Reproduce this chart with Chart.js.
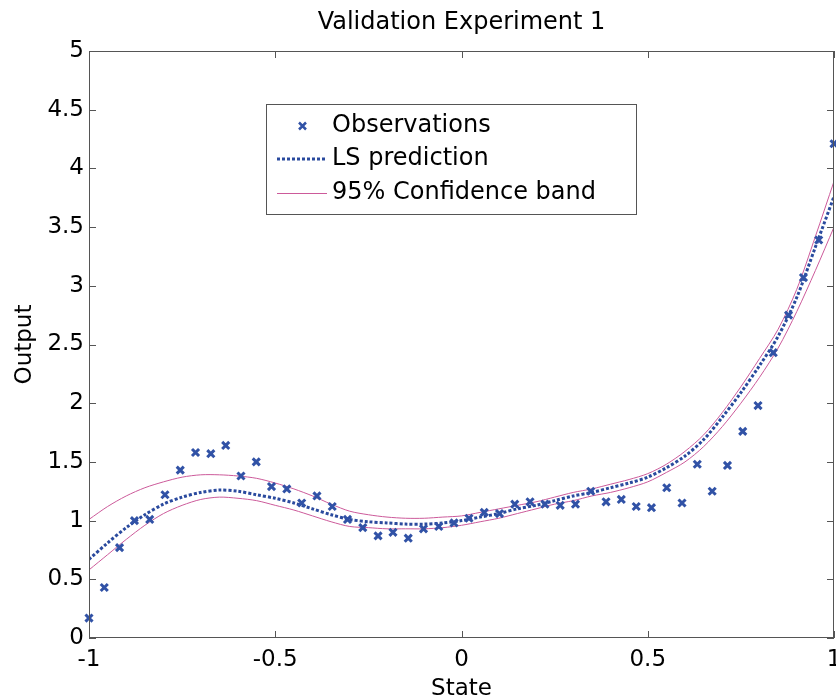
<!DOCTYPE html>
<html>
<head>
<meta charset="utf-8">
<script src="https://cdn.jsdelivr.net/npm/chart.js@4.4.0/dist/chart.umd.min.js"></script>
<style>
  html, body { margin: 0; padding: 0; background: #fff; }
</style>
</head>
<body>
<canvas id="chart" width="836" height="698"></canvas>
<script>
// ===== Data =====
const stateObs = [-1.000, -0.959, -0.918, -0.878, -0.837, -0.796, -0.755, -0.714, -0.673, -0.633,
  -0.592, -0.551, -0.510, -0.469, -0.429, -0.388, -0.347, -0.306, -0.265, -0.224,
  -0.184, -0.143, -0.102, -0.061, -0.020, 0.020, 0.061, 0.102, 0.143, 0.184,
  0.224, 0.265, 0.306, 0.347, 0.388, 0.429, 0.469, 0.510, 0.551, 0.592,
  0.633, 0.673, 0.714, 0.755, 0.796, 0.837, 0.878, 0.918, 0.959, 1.000];
const outputObs = [0.17, 0.43, 0.77, 1.00, 1.01, 1.22, 1.43, 1.58, 1.57, 1.64,
  1.38, 1.50, 1.29, 1.27, 1.15, 1.21, 1.12, 1.01, 0.94, 0.87,
  0.90, 0.85, 0.93, 0.95, 0.98, 1.02, 1.07, 1.06, 1.14, 1.16,
  1.14, 1.13, 1.14, 1.25, 1.16, 1.18, 1.12, 1.11, 1.28, 1.15,
  1.48, 1.25, 1.47, 1.76, 1.98, 2.43, 2.75, 3.07, 3.39, 4.21];

const stateFit = [-1.00, -0.95, -0.90, -0.85, -0.80, -0.75, -0.70, -0.65, -0.60, -0.55,
  -0.50, -0.45, -0.40, -0.35, -0.30, -0.25, -0.20, -0.15, -0.10, -0.05,
  0.00, 0.05, 0.10, 0.15, 0.20, 0.25, 0.30, 0.35, 0.40, 0.45,
  0.50, 0.55, 0.60, 0.65, 0.70, 0.75, 0.80, 0.85, 0.90, 0.95, 1.00];
const lsPrediction = [0.67, 0.81, 0.94, 1.05, 1.14, 1.20, 1.24, 1.26, 1.25, 1.22,
  1.19, 1.15, 1.10, 1.05, 1.01, 0.99, 0.98, 0.97, 0.97, 0.98,
  1.00, 1.03, 1.06, 1.10, 1.13, 1.17, 1.21, 1.24, 1.28, 1.32,
  1.37, 1.45, 1.55, 1.69, 1.88, 2.09, 2.32, 2.57, 2.90, 3.33, 3.76];
const bandUpper = [1.01, 1.12, 1.21, 1.28, 1.33, 1.37, 1.39, 1.39, 1.38, 1.36,
  1.32, 1.27, 1.21, 1.14, 1.08, 1.05, 1.03, 1.02, 1.02, 1.03,
  1.04, 1.07, 1.10, 1.13, 1.16, 1.20, 1.24, 1.27, 1.31, 1.35,
  1.40, 1.48, 1.59, 1.73, 1.92, 2.14, 2.38, 2.63, 2.97, 3.42, 3.89];
const bandLower = [0.58, 0.71, 0.84, 0.96, 1.06, 1.13, 1.18, 1.20, 1.19, 1.17,
  1.13, 1.09, 1.04, 0.99, 0.95, 0.94, 0.93, 0.93, 0.93, 0.94,
  0.96, 0.99, 1.02, 1.06, 1.10, 1.14, 1.17, 1.21, 1.24, 1.28,
  1.33, 1.41, 1.50, 1.63, 1.80, 2.00, 2.22, 2.47, 2.78, 3.13, 3.50];

const legendLabels = ["Observations", "LS prediction", "95% Confidence band"];

// ===== Styles =====
const FONT = "'DejaVu Sans', sans-serif";
const OBS_COLOR = "#3152a6";
const LS_COLOR = "#2a4a9e";
const BAND_COLOR = "#cc5a9a";
const AXIS_COLOR = "#555";

const pts = (xs, ys) => xs.map((x, i) => ({ x: x, y: ys[i] }));

// ===== Box + inward ticks (MATLAB look) =====
const matlabAxes = {
  id: "matlabAxes",
  afterDatasetsDraw(chart) {
    const { ctx, chartArea: a, scales: { x, y } } = chart;
    const len = 7;
    ctx.save();
    ctx.strokeStyle = AXIS_COLOR;
    ctx.lineWidth = 1;
    ctx.strokeRect(a.left + 0.5, a.top + 0.5, a.right - a.left - 1, a.bottom - a.top - 1);
    ctx.beginPath();
    x.ticks.forEach(t => {
      const px = Math.round(x.getPixelForValue(t.value)) + 0.5;
      ctx.moveTo(px, a.bottom); ctx.lineTo(px, a.bottom - len);
      ctx.moveTo(px, a.top); ctx.lineTo(px, a.top + len);
    });
    y.ticks.forEach(t => {
      const py = Math.round(y.getPixelForValue(t.value)) + 0.5;
      ctx.moveTo(a.left, py); ctx.lineTo(a.left + len, py);
      ctx.moveTo(a.right, py); ctx.lineTo(a.right - len, py);
    });
    ctx.stroke();
    ctx.restore();
  }
};

// ===== Legend box inside the plot =====
const boxLegend = {
  id: "boxLegend",
  afterDraw(chart) {
    const ctx = chart.ctx;
    const bx = 266, by = 104, bw = 370, bh = 110;
    const rows = [126, 159, 193];
    ctx.save();
    ctx.fillStyle = "#fff";
    ctx.fillRect(bx, by, bw, bh);
    ctx.strokeStyle = AXIS_COLOR;
    ctx.lineWidth = 1;
    ctx.strokeRect(bx + 0.5, by + 0.5, bw, bh);

    // observation marker
    ctx.strokeStyle = OBS_COLOR;
    ctx.lineWidth = 2.5;
    ctx.beginPath();
    ctx.moveTo(299, rows[0] - 3.5); ctx.lineTo(306, rows[0] + 3.5);
    ctx.moveTo(306, rows[0] - 3.5); ctx.lineTo(299, rows[0] + 3.5);
    ctx.stroke();

    // dashed LS sample
    ctx.strokeStyle = LS_COLOR;
    ctx.lineWidth = 3;
    ctx.setLineDash([3, 2]);
    ctx.beginPath();
    ctx.moveTo(277, rows[1]); ctx.lineTo(327, rows[1]);
    ctx.stroke();
    ctx.setLineDash([]);

    // band sample
    ctx.strokeStyle = BAND_COLOR;
    ctx.lineWidth = 1;
    ctx.beginPath();
    ctx.moveTo(277, rows[2] + 0.5); ctx.lineTo(327, rows[2] + 0.5);
    ctx.stroke();

    ctx.fillStyle = "#000";
    ctx.font = "24px " + FONT;
    ctx.textBaseline = "middle";
    legendLabels.forEach((t, i) => ctx.fillText(t, 332, rows[i]));
    ctx.restore();
  }
};

new Chart(document.getElementById("chart"), {
  type: "scatter",
  data: {
    datasets: [
      {
        label: legendLabels[0],
        data: pts(stateObs, outputObs),
        showLine: false,
        pointStyle: "crossRot",
        pointRadius: 5,
        pointBorderWidth: 3,
        borderColor: OBS_COLOR,
        backgroundColor: OBS_COLOR,
        clip: false,
        order: 0
      },
      {
        label: legendLabels[1],
        data: pts(stateFit, lsPrediction),
        showLine: true,
        pointRadius: 0,
        borderColor: LS_COLOR,
        borderWidth: 3,
        borderDash: [3, 2],
        tension: 0.3,
        order: 1
      },
      {
        label: legendLabels[2],
        data: pts(stateFit, bandUpper),
        showLine: true,
        pointRadius: 0,
        borderColor: BAND_COLOR,
        borderWidth: 1,
        tension: 0.3,
        order: 2
      },
      {
        label: legendLabels[2],
        data: pts(stateFit, bandLower),
        showLine: true,
        pointRadius: 0,
        borderColor: BAND_COLOR,
        borderWidth: 1,
        tension: 0.3,
        order: 2
      }
    ]
  },
  options: {
    responsive: false,
    animation: false,
    layout: { autoPadding: false, padding: { left: 0, right: 2, top: 0, bottom: 0 } },
    plugins: {
      legend: { display: false },
      tooltip: { enabled: false }
    },
    scales: {
      // top axis only carries the title, so it is centred over the plot
      top: {
        type: "linear",
        position: "top",
        min: -1, max: 1,
        grid: { display: false, drawTicks: false },
        border: { display: false },
        ticks: { display: false },
        title: {
          display: true,
          text: "Validation Experiment 1",
          color: "#000",
          font: { family: FONT, size: 24 },
          padding: { top: 8, bottom: 0 }
        },
        afterFit: s => { s.height = 51; s.paddingLeft = 0; s.paddingRight = 0; }
      },
      x: {
        type: "linear",
        min: -1, max: 1,
        grid: { display: false, drawTicks: false },
        border: { display: false },
        ticks: {
          stepSize: 0.5,
          color: "#000",
          padding: 8,
          maxRotation: 0,
          font: { family: FONT, size: 23 },
          callback: v => String(v)
        },
        title: {
          display: true, text: "State", color: "#000",
          font: { family: FONT, size: 23 },
          padding: { top: 0, bottom: -5 }
        },
        afterFit: s => { s.height = 60; s.paddingLeft = 0; s.paddingRight = 0; }
      },
      y: {
        min: 0, max: 5,
        grid: { display: false, drawTicks: false },
        border: { display: false },
        ticks: {
          stepSize: 0.5,
          color: "#000",
          padding: 5,
          font: { family: FONT, size: 23 },
          callback: v => String(v)
        },
        title: {
          display: true, text: "Output", color: "#000",
          font: { family: FONT, size: 23 },
          padding: { top: 11, bottom: 0 }
        },
        afterFit: s => { s.width = 89; s.paddingTop = 0; s.paddingBottom = 0; }
      }
    }
  },
  plugins: [matlabAxes, boxLegend]
});
</script>
</body>
</html>
